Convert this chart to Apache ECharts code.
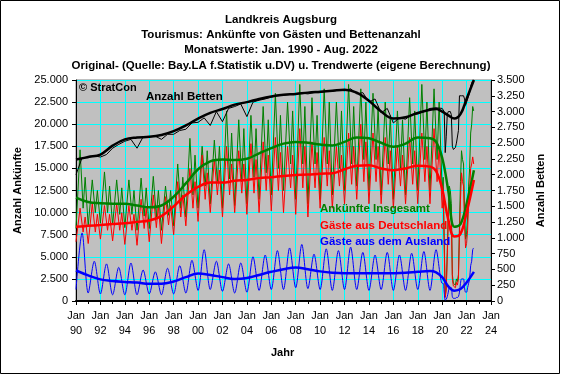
<!DOCTYPE html>
<html lang="de">
<head>
<meta charset="UTF-8">
<title>Landkreis Augsburg Tourismus</title>
<style>
  body { margin: 0; background: #fff; }
  #chart { width: 562px; height: 376px; }
</style>
<script src="https://cdn.jsdelivr.net/npm/echarts@6/dist/echarts.min.js"></script>
</head>
<body>
<div id="chart"></div>
<script>
// years with monthly readings kept as Jan low / May high / Aug dip / Oct high, 1990-2019
var years = [1990, 1991, 1992, 1993, 1994, 1995, 1996, 1997, 1998, 1999,
             2000, 2001, 2002, 2003, 2004, 2005, 2006, 2007, 2008, 2009,
             2010, 2011, 2012, 2013, 2014, 2015, 2016, 2017, 2018, 2019];

// Ankünfte insgesamt
var totalLow   = [8200, 8500, 8800, 8600, 8300, 8000, 8200, 8000, 8500, 9500,
                  10500, 11000, 10500, 10800, 11000, 11500, 12000, 12500, 11500, 11000,
                  11500, 12000, 12500, 13000, 12500, 12000, 11500, 12000, 12500, 12500];
var totalHigh  = [17100, 13700, 14600, 13700, 13700, 13900, 14100, 13000, 15500, 18400,
                  17500, 18200, 21500, 20500, 21000, 22000, 23500, 22500, 24500, 23000,
                  24000, 22500, 24500, 24000, 23500, 22500, 21500, 23000, 24500, 24000];
var totalDip   = [10500, 10000, 10000, 9800, 9800, 9600, 9500, 9700, 10500, 12000,
                  13000, 13500, 13800, 13500, 14000, 14500, 15000, 15500, 15500, 15500,
                  15500, 15000, 15500, 16000, 16000, 15500, 15000, 15500, 16000, 16000];
var totalHigh2 = [14000, 12500, 13000, 12800, 12500, 12800, 12500, 12500, 14000, 16500,
                  17000, 17500, 19000, 19500, 19500, 20500, 21000, 21500, 22000, 21000,
                  22500, 21500, 22000, 22500, 22000, 21000, 20500, 21500, 22500, 22500];
// Gäste aus Deutschland
var germanLow   = [6700, 6500, 7000, 6800, 6400, 6300, 6700, 6500, 7500, 8500,
                   9000, 10000, 9500, 10000, 9800, 10000, 10200, 10000, 9800, 9500,
                   10500, 10500, 11000, 11500, 11000, 11000, 10500, 11000, 11000, 11000];
var germanHigh  = [10500, 11000, 10800, 11000, 10800, 11500, 12000, 11800, 13500, 15000,
                   16500, 16000, 17500, 17000, 17800, 18000, 18500, 17500, 19500, 18000,
                   18500, 17500, 19000, 20000, 19000, 18500, 17500, 18500, 19000, 19500];
var germanDip   = [7800, 7800, 8000, 8000, 8000, 8200, 8300, 8600, 9500, 10500,
                   11500, 12000, 12000, 12200, 12200, 12500, 12500, 12800, 12800, 12800,
                   13000, 13000, 13200, 13500, 13500, 13200, 13000, 13200, 13500, 13500];
var germanHigh2 = [9500, 9800, 9800, 10000, 9800, 10500, 10800, 10800, 12000, 13500,
                   14500, 14800, 15500, 15500, 16000, 16500, 16800, 16500, 17500, 16800,
                   17000, 16500, 17500, 18000, 17500, 17000, 16500, 17000, 17500, 17500];
// Gäste aus dem Ausland (one summer peak per year)
var foreignLow  = [1300, 900, 800, 700, 700, 700, 800, 700, 800, 900,
                   1200, 1300, 1100, 900, 1000, 1200, 1300, 1300, 1500, 1400,
                   1300, 1200, 1300, 1300, 1200, 1300, 1200, 1200, 1300, 1200];
var foreignHigh = [7700, 4500, 4200, 3800, 4300, 3500, 3300, 3700, 4000, 4600,
                   5800, 4500, 4200, 4300, 5000, 5200, 5700, 6000, 6400, 5300,
                   5900, 5700, 6100, 5500, 5200, 5500, 5200, 5400, 5600, 5800];
// Anzahl Betten (right axis), Jan and Jul readings
var bedsJan = [2000, 2270, 2280, 2420, 2530, 2420, 2600, 2560, 2640, 2720,
               2830, 2780, 2840, 3080, 2920, 3180, 3230, 3260, 3270, 3280,
               3300, 3320, 3330, 3280, 3150, 2980, 2820, 2880, 2960, 3050];
var bedsJul = [2270, 2300, 2320, 2480, 2560, 2600, 2610, 2640, 2700, 2820,
               2900, 3000, 3050, 3120, 3150, 3200, 3250, 3270, 3290, 3300,
               3320, 3340, 3360, 3300, 3200, 3050, 2900, 2950, 3000, 3060];

// monthly values Jan 2020 - Aug 2022
var totalCovid   = [12500, 14000, 7000, 500, 1500, 5500, 10000, 13000, 12500, 11000, 3000, 2000,
                    1800, 1800, 2500, 2200, 3000, 8500, 13500, 17000, 16000, 15500, 10000, 7000,
                    7500, 9500, 13000, 15000, 19000, 20000, 22000, 21500];
var germanCovid  = [10500, 12000, 6000, 400, 1300, 5000, 9000, 11500, 11000, 9500, 2500, 1700,
                    1500, 1500, 2100, 1800, 2500, 7500, 11500, 14500, 13500, 13000, 8500, 6000,
                    6500, 8000, 11000, 12500, 15000, 15500, 16300, 15500];
var foreignCovid = [2000, 2000, 1000, 100, 200, 500, 1000, 1500, 1500, 1500, 500, 300,
                    300, 300, 400, 400, 500, 1000, 2000, 2500, 2500, 2500, 1500, 1000,
                    1000, 1500, 2000, 2500, 4000, 4500, 5800, 6000];
var bedsCovid    = [3050, 3050, 3000, 2350, 2600, 2950, 3000, 3000, 3000, 2950, 2450, 2400,
                    2420, 2430, 2500, 2500, 2700, 3250, 3250, 3250, 3250, 3250, 3200, 3100,
                    3150, 3200, 3250, 3300, 3400, 3450, 3490, 3500];

// trend values
var trendX = [1990, 1991, 1992, 1993, 1994, 1995, 1996, 1997, 1998, 1999,
              2000, 2001, 2002, 2003, 2004, 2005, 2006, 2007, 2008, 2009,
              2010, 2011, 2012, 2013, 2014, 2015, 2016, 2017, 2018, 2019,
              2019.5, 2020, 2020.5, 2021, 2021.5, 2022, 2022.6];
var totalTrend = [11700, 11200, 11050, 11000, 11000, 10800, 10600, 10800, 11800, 13300,
                  14900, 15800, 16000, 15950, 16100, 16700, 17300, 17800, 18000, 17900,
                  17700, 17600, 18000, 18500, 18400, 17900, 17450, 17800, 18500, 18400,
                  18000, 16200, 12500, 8400, 8700, 11000, 14800];
var germanTrend = [8400, 8500, 8600, 8700, 8800, 8950, 9100, 9600, 10700, 12000,
                   12900, 13400, 13400, 13600, 13700, 13900, 14000, 14150, 14250, 14300,
                   14400, 14450, 14900, 15300, 15350, 15000, 14800, 15000, 15300, 15200,
                   14700, 12700, 9200, 7300, 7600, 10000, 13700];
var foreignTrend = [3450, 2900, 2450, 2250, 2150, 2080, 1950, 1950, 2200, 2700,
                    3100, 2950, 2700, 2500, 2600, 2950, 3300, 3600, 3800, 3600,
                    3350, 3200, 3150, 3150, 3150, 3130, 3150, 3200, 3300, 3380,
                    3250, 2700, 1650, 1170, 1350, 2100, 3300];
var bedsTrend = [2240, 2280, 2320, 2460, 2560, 2590, 2600, 2630, 2690, 2780,
                 2890, 2980, 3040, 3110, 3150, 3200, 3240, 3265, 3280, 3300,
                 3315, 3330, 3345, 3300, 3170, 3000, 2890, 2910, 2980, 3030,
                 3040, 3000, 2940, 2890, 2960, 3200, 3500];

// builds the monthly curve: Jan low, May high, (Aug dip, Oct high), then 2020+ monthly
function rawSeries(low, high, dip, high2, covid) {
    var pts = [];
    years.forEach(function (y, i) {
        pts.push([y, low[i]]);
        if (dip) {
            pts.push([y + 4 / 12, high[i]]);
            pts.push([y + 7 / 12, dip[i]]);
            pts.push([y + 9 / 12, high2[i]]);
        } else {
            pts.push([y + 6 / 12, high[i]]);
        }
    });
    covid.forEach(function (v, m) { pts.push([2020 + m / 12, v]); });
    return pts;
}
function trendSeries(vals) {
    return trendX.map(function (x, i) { return [x, vals[i]]; });
}
function dots(v) {
    return String(v).replace(/\B(?=(\d{3})+(?!\d))/g, '.');
}

var font = 'Liberation Sans, Arial, sans-serif';
var chart = echarts.init(document.getElementById('chart'));

function line(name, data, color, width, yIdx, smooth) {
    return {
        name: name, type: 'line', data: data, yAxisIndex: yIdx || 0,
        showSymbol: false, smooth: smooth || false, animation: false,
        lineStyle: { color: color, width: width }
    };
}

chart.setOption({
    backgroundColor: '#fff',
    animation: false,
    title: {
        text: 'Landkreis Augsburg\nTourismus: Ankünfte von Gästen und Bettenanzahl\nMonatswerte: Jan. 1990 - Aug. 2022\nOriginal- (Quelle: Bay.LA f.Statistik u.DV) u. Trendwerte (eigene Berechnung)',
        left: 'center', top: 7,
        textStyle: { fontFamily: font, fontSize: 11.5, fontWeight: 'bold', color: '#000', lineHeight: 15.3 }
    },
    grid: {
        left: 76, top: 80, width: 415, height: 221,
        show: true, backgroundColor: '#c0c0c0', borderColor: '#808080', borderWidth: 1
    },
    xAxis: {
        type: 'value', min: 1990, max: 2024, interval: 2,
        axisLine: { lineStyle: { color: '#000', width: 2 } },
        axisTick: { lineStyle: { color: '#000' }, length: 4 },
        minorTick: { show: true, splitNumber: 2, length: 3, lineStyle: { color: '#000' } },
        axisLabel: {
            color: '#000', fontFamily: font, fontSize: 11, lineHeight: 15, margin: 7,
            formatter: function (v) { return 'Jan\n' + String(v).slice(2); }
        },
        splitLine: { show: true, lineStyle: { color: '#00ffff', width: 1 } }
    },
    yAxis: [{
        type: 'value', min: 0, max: 25000, interval: 2500,
        name: 'Anzahl Ankünfte', nameLocation: 'middle', nameGap: 45,
        nameTextStyle: { fontFamily: font, fontSize: 11, fontWeight: 'bold', color: '#000' },
        axisLine: { show: true, lineStyle: { color: '#000' } },
        axisTick: { show: true, length: 4, lineStyle: { color: '#000' } },
        axisLabel: { color: '#000', fontFamily: font, fontSize: 11, margin: 8, formatter: dots },
        splitLine: { show: true, lineStyle: { color: '#00ffff', width: 1 } }
    }, {
        type: 'value', min: 0, max: 3500, interval: 250, position: 'right',
        name: 'Anzahl Betten', nameLocation: 'middle', nameGap: 41,
        nameTextStyle: { fontFamily: font, fontSize: 11, fontWeight: 'bold', color: '#000' },
        axisLine: { show: true, lineStyle: { color: '#000' } },
        axisTick: { show: true, length: 4, lineStyle: { color: '#000' } },
        axisLabel: { color: '#000', fontFamily: font, fontSize: 11, margin: 6, formatter: dots },
        splitLine: { show: false }
    }],
    graphic: [
        { type: 'rect', shape: { x: 0.5, y: 0.5, width: 559, height: 373 },
          style: { fill: 'none', stroke: '#000', lineWidth: 1 }, z: 100 },
        { type: 'text', left: 79, top: 82, z: 100,
          style: { text: '© StratCon', font: 'bold 11px ' + font, fill: '#000' } },
        { type: 'text', left: 146, top: 91, z: 100,
          style: { text: 'Anzahl Betten', font: 'bold 11.5px ' + font, fill: '#000' } },
        { type: 'text', left: 320, top: 203, z: 100,
          style: { text: 'Ankünfte Insgesamt', font: 'bold 11.5px ' + font, fill: '#008000' } },
        { type: 'text', left: 320, top: 220, z: 100,
          style: { text: 'Gäste aus Deutschland', font: 'bold 11.5px ' + font, fill: '#ff0000' } },
        { type: 'text', left: 320, top: 236, z: 100,
          style: { text: 'Gäste aus dem Ausland', font: 'bold 11.5px ' + font, fill: '#0000ff' } },
        { type: 'text', left: 271, top: 347, z: 100,
          style: { text: 'Jahr', font: 'bold 11px ' + font, fill: '#000' } }
    ],
    series: [
        line('Ankünfte Insgesamt', rawSeries(totalLow, totalHigh, totalDip, totalHigh2, totalCovid), '#008000', 1),
        line('Gäste aus Deutschland', rawSeries(germanLow, germanHigh, germanDip, germanHigh2, germanCovid), '#ff0000', 1),
        line('Gäste aus dem Ausland', rawSeries(foreignLow, foreignHigh, null, null, foreignCovid), '#0000ff', 1, 0, 0.3),
        line('Anzahl Betten', rawSeries(bedsJan, bedsJul, null, null, bedsCovid), '#000', 1, 1),
        line('Trend Insgesamt', trendSeries(totalTrend), '#008000', 2.5, 0, 0.4),
        line('Trend Deutschland', trendSeries(germanTrend), '#ff0000', 2.5, 0, 0.4),
        line('Trend Ausland', trendSeries(foreignTrend), '#0000ff', 2.5, 0, 0.4),
        line('Trend Betten', trendSeries(bedsTrend), '#000', 2.5, 1, 0.4)
    ]
});
</script>
</body>
</html>
